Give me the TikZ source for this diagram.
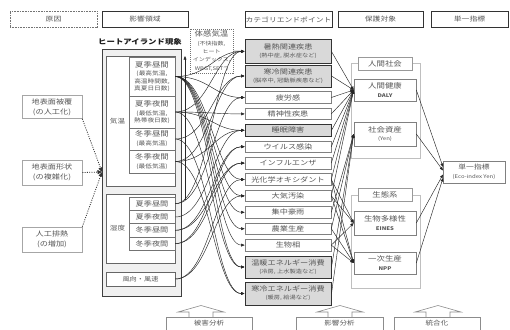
\documentclass[tikz,border=0pt]{standalone}
\usepackage{fontspec}
\setmainfont{Noto Sans CJK JP}[FakeStretch=1.2]
\usetikzlibrary{arrows.meta}
\newcommand{\fsz}[2]{\fontsize{#1}{#2}\selectfont}
\begin{document}
\begin{tikzpicture}[x=1pt,y=-1pt,
  every node/.style={inner sep=0pt, align=center, text=black!66},
  hdrbox/.style={draw=black!80, line width=0.7pt, fill=white, minimum height=16pt, font=\fsz{6.5}{8}},
  hdrdot/.style={draw=black!55, line width=0.8pt, dash pattern=on 0.8pt off 0.8pt, fill=white, minimum height=16pt, font=\fsz{6.5}{8}},
  causebox/.style={draw=black!35, line width=0.6pt, fill=white, minimum width=60pt, font=\fsz{6.8}{10}},
  subbox/.style={draw=black!55, line width=0.5pt, fill=white, minimum width=46pt, font=\fsz{5.6}{7.4}},
  humbox/.style={draw=black!55, line width=0.5pt, fill=white, minimum width=46pt, minimum height=13.4pt, font=\fsz{6.8}{8}},
  areabox/.style={draw=black!60, line width=0.5pt, fill=white, minimum width=69pt},
  catbox/.style={draw=black!50, line width=0.6pt, fill=white, minimum width=86pt, minimum height=11.5pt, font=\fsz{6.8}{8}},
  catgray/.style={draw=black!80, line width=1pt, fill=black!15, minimum width=86pt, font=\fsz{5.2}{8}},
  protbox/.style={draw=black!50, line width=0.6pt, fill=white, minimum width=62pt, font=\fsz{5}{8.5}},
  protlab/.style={draw=black!40, line width=0.6pt, fill=white, minimum width=54pt, minimum height=13pt, font=\fsz{7}{8}},
  grpline/.style={draw=black!25, line width=0.6pt},
  flowline/.style={draw=black!85, line width=0.45pt, -{Triangle[length=3.5pt,width=2.8pt]}},
  dotflow/.style={draw=black!80, line width=0.8pt, dash pattern=on 1pt off 1.3pt, -{Triangle[length=4.5pt,width=4pt]}},
  uparrow/.style={draw=black!45, line width=0.6pt, fill=white},
  botbox/.style={draw=black!45, line width=0.6pt, fill=white, minimum height=13pt, font=\fsz{6.3}{8}},
]
\fill[white] (0,0) rectangle (510,329);
\useasboundingbox (0,0) rectangle (510,329);

% headers
\node[hdrdot, minimum width=87pt] (hGen) at (53.5,19.5) {原因};
\node[hdrbox, minimum width=86pt] (hEik) at (145,19.5) {影響領域};
\node[hdrbox, minimum width=87pt] (hCat) at (288.5,19.5) {カテゴリエンドポイント};
\node[hdrbox, minimum width=85pt] (hHog) at (380.5,19.5) {保護対象};
\node[hdrbox, minimum width=77pt] (hTan) at (469.5,19.5) {単一指標};

% heat island block
\node[font=\fsz{7}{8}\bfseries, text=black!90] (title) at (140,42) {ヒートアイランド現象};
\node[draw=black!75, line width=0.7pt, fill=black!6, minimum width=79pt, minimum height=247pt] (hi) at (141.5,172.5) {};
\node[areabox, minimum height=130pt] (kion) at (140.5,121) {};
\node[font=\fsz{6.3}{8}] (kionL) at (117.5,121) {気温};
\node[subbox, minimum height=39pt] (t1) at (152,76.5) {{\fsz{7}{8}夏季昼間}\\[1.5pt](最高気温,\\高温時間数,\\真夏日日数)};
\node[subbox, minimum height=32pt] (t2) at (152,112) {{\fsz{7}{8}夏季夜間}\\[1.5pt](最低気温,\\熱帯夜日数)};
\node[subbox, minimum height=22pt] (t3) at (152,139) {{\fsz{7}{8}冬季昼間}\\[1.5pt](最高気温)};
\node[subbox, minimum height=23pt] (t4) at (152,161.5) {{\fsz{7}{8}冬季夜間}\\[1.5pt](最低気温)};

\node[areabox, minimum height=69pt] (shitsudo) at (140.5,228.5) {};
\node[font=\fsz{6.3}{8}] (shitsudoL) at (117.5,228.5) {湿度};
\node[humbox] (h1) at (152,203.7) {夏季昼間};
\node[humbox] (h2) at (152,217) {夏季夜間};
\node[humbox] (h3) at (152,230.3) {冬季昼間};
\node[humbox] (h4) at (152,243.6) {冬季夜間};
\node[areabox, minimum height=14pt, font=\fsz{6}{8}] (wind) at (140.5,279) {風向・風速};

% causes
\node[causebox, minimum height=23pt] (c1) at (52,107) {地表面被覆\\(の人工化)};
\node[causebox, minimum height=25pt] (c2) at (52,172.5) {地表面形状\\(の複雑化)};
\node[causebox, minimum height=25pt] (c3) at (52,239.5) {人工排熱\\(の増加)};
\coordinate (hiW) at (102,172);
\draw[dotflow] (c1.south east) -- (hiW);
\draw[dotflow] (c2.east) -- (hiW);
\draw[dotflow] (c3.north east) -- (hiW);

% sensible temperature
\node[draw=black!55, line width=0.8pt, dash pattern=on 1pt off 1pt, fill=white, minimum width=43pt, minimum height=44pt, font=\fsz{5}{8.3}] (taikan) at (211.5,51) {{\fsz{7}{8.3}体感気温}\\(不快指数,\\ヒート\\インデックス,\\WBGT,SET")};
\coordinate (tkS) at (185,200);
\coordinate (tkE) at (185,56);
\draw[flowline] (tkS) -- (tkE);

% category endpoints
\node[catgray, minimum height=23pt] (k1) at (288,51.5) {{\fsz{6.8}{8}暑熱関連疾患}\\(熱中症, 脱水症など)};
\node[catgray, minimum height=22pt] (k2) at (288,76) {{\fsz{6.8}{8}寒冷関連疾患}\\(脳卒中, 冠動脈疾患など)};
\node[catbox] (k3) at (288,97.5) {疲労感};
\node[catbox] (k4) at (288,113.9) {精神性疾患};
\node[catgray, minimum height=11.5pt, font=\fsz{6.8}{8}] (k5) at (288,130.3) {睡眠障害};
\node[catbox] (k6) at (288,146.7) {ウイルス感染};
\node[catbox] (k7) at (288,163.1) {インフルエンザ};
\node[catbox] (k8) at (288,179.5) {光化学オキシダント};
\node[catbox] (k9) at (288,195.9) {大気汚染};
\node[catbox] (k10) at (288,212.3) {集中豪雨};
\node[catbox] (k11) at (288,228.7) {農業生産};
\node[catbox] (k12) at (288,245.1) {生物相};
\node[catgray, minimum height=22pt] (k13) at (288,267) {{\fsz{6.8}{8}温暖エネルギー消費}\\(冷房, 上水製造など)};
\node[catgray, minimum height=23pt] (k14) at (288,293.5) {{\fsz{6.8}{8}寒冷エネルギー消費}\\(暖房, 給湯など)};

\draw[flowline] (taikan) -- (k1);

% flows from heat island
\foreach \s/\t in {t1/k1,t1/k3,t1/k8,t1/k9,t1/k10,t1/k11,t1/k12,t1/k13,
                   t2/k1,t2/k4,t2/k5,t2/k13,
                   t3/k2,t3/k14,
                   t4/k2,t4/k5,t4/k14,
                   h1/k1,h1/k3,h2/k5,h3/k6,h3/k7,h4/k6,h4/k7,
                   wind/k8,wind/k9}
  \draw[flowline] (\s.east) .. controls +(34,0) and +(-30,0) .. (\t.west);

% protection targets
\draw[grpline] (351,63.5) rectangle (420,158);
\node[protlab] (p0) at (385,63.5) {人間社会};
\node[protbox, minimum height=22pt] (p1) at (385,90) {{\fsz{7}{8.5}人間健康}\\\textbf{DALY}};
\node[protbox, minimum height=24pt] (p2) at (385,134) {{\fsz{7}{8.5}社会資産}\\(Yen)};
\draw[grpline] (351,195) rectangle (420,288);
\node[protlab] (p3) at (385,195) {生態系};
\node[protbox, minimum height=24pt] (p4) at (385,223) {{\fsz{7}{8.5}生物多様性}\\\textbf{EINES}};
\node[protbox, minimum height=22pt] (p5) at (385,263) {{\fsz{7}{8.5}一次生産}\\\textbf{NPP}};

\foreach \s in {k1,k2,k3,k4,k5,k6,k7,k8,k9}
  \draw[flowline] (\s.east) -- (p1.west);
\foreach \s in {k10,k11,k13,k14}
  \draw[flowline] (\s.east) -- (p2.west);
\foreach \s in {k8,k9,k12}
  \draw[flowline] (\s.east) -- (p4.west);
\foreach \s in {k8,k9,k11,k12}
  \draw[flowline] (\s.east) -- (p5.west);

% single index
\node[protbox, minimum height=22pt, font=\fsz{5}{8.5}] (tan) at (474,172) {{\fsz{6.5}{8.5}単一指標}\\(Eco-index Yen)};
\coordinate (tanA) at (443,167);
\coordinate (tanB) at (443,170.5);
\coordinate (tanC) at (443,174.5);
\coordinate (tanD) at (443,178);
\draw[flowline] (p1.east) -- (tanA);
\draw[flowline] (p2.east) -- (tanB);
\draw[flowline] (p4.east) -- (tanC);
\draw[flowline] (p5.east) -- (tanD);

% bottom analysis steps
\begin{scope}
\clip (0,0) rectangle (510,329);
\foreach \cx in {201,340,438}
  \draw[uparrow] (\cx-12,317) -- (\cx-12,312) -- (\cx-23,312) -- (\cx,305.5) -- (\cx+23,312) -- (\cx+12,312) -- (\cx+12,317);
\node[botbox, minimum width=86pt] (bHigai) at (209,323.5) {被害分析};
\node[botbox, minimum width=87pt] (bEikyo) at (339.5,323.5) {影響分析};
\node[botbox, minimum width=86pt] (bTogo) at (437,323.5) {統合化};
\end{scope}
\end{tikzpicture}
\end{document}
